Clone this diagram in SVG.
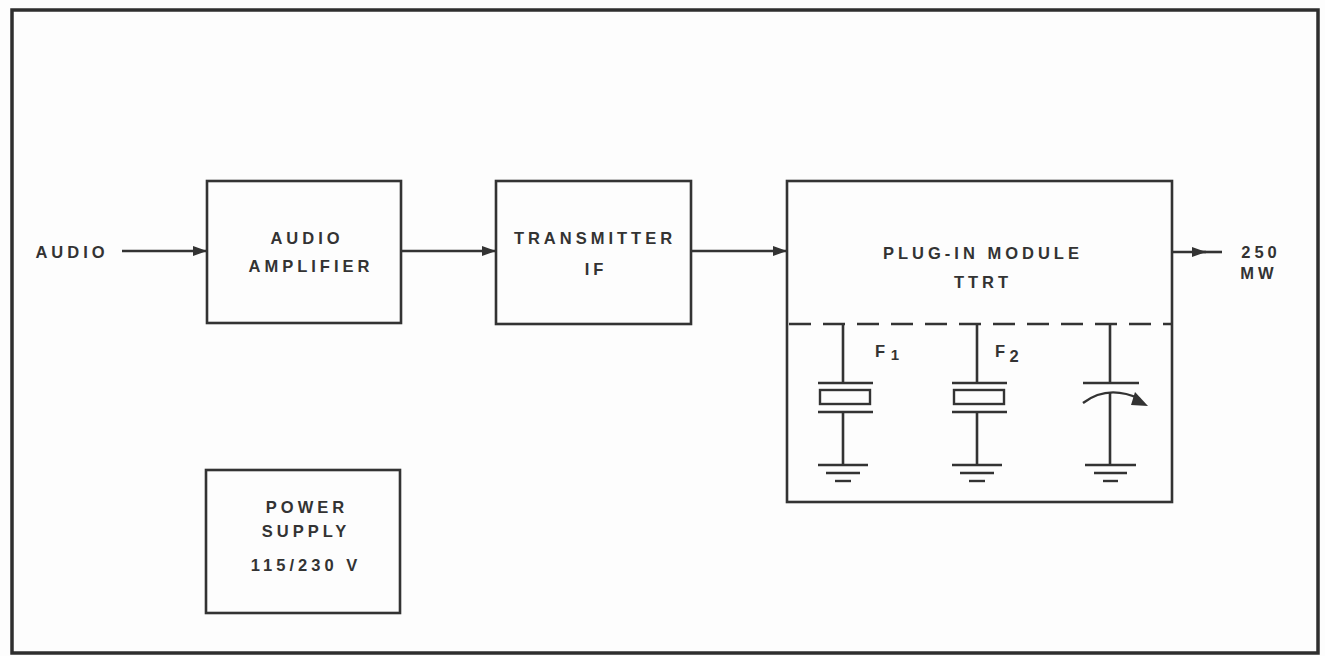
<svg xmlns="http://www.w3.org/2000/svg" width="1325" height="656" viewBox="0 0 1325 656">
<defs>
<style>
.frame{fill:none;stroke:#2e2e2e;stroke-width:3.5}
.box{fill:none;stroke:#333;stroke-width:2.6}
.ln{fill:none;stroke:#333;stroke-width:2.6}
.thin{fill:none;stroke:#333;stroke-width:2.4}
.t{font-family:"Liberation Sans",Arial,sans-serif;font-weight:bold;font-size:16.5px;fill:#333;letter-spacing:4px;text-anchor:middle}
</style>
<marker id="ah" viewBox="0 0 14 10" refX="14" refY="5" markerWidth="14" markerHeight="10" markerUnits="userSpaceOnUse" orient="auto">
<path d="M0,0 L14,5 L0,10 Z" fill="#333"/>
</marker>
</defs>
<rect width="1325" height="656" fill="#fdfdfd"/>
<rect class="frame" x="12" y="10" width="1306" height="643"/>

<g id="audio-in">
<text class="t" x="72" y="258">AUDIO</text>
</g>

<g id="audio-amplifier">
<rect class="box" x="207" y="181" width="194" height="142"/>
<text class="t" x="307" y="244">AUDIO</text>
<text class="t" x="311" y="272">AMPLIFIER</text>
</g>

<g id="transmitter-if">
<rect class="box" x="496" y="181" width="195" height="143"/>
<text class="t" x="595" y="244">TRANSMITTER</text>
<text class="t" x="596" y="275">IF</text>
</g>

<g id="plug-in-module">
<rect class="box" x="787" y="181" width="385" height="321"/>
<text class="t" x="983" y="259">PLUG-IN MODULE</text>
<text class="t" x="983" y="288">TTRT</text>
<line class="ln" x1="787" y1="324" x2="1172" y2="324" stroke-dasharray="22 12" stroke-dashoffset="-2"/>
<g id="crystal-f1">
<line class="ln" x1="843" y1="324" x2="843" y2="383"/>
<line class="thin" x1="818" y1="383" x2="873" y2="383"/>
<rect class="thin" x="820" y="390" width="50" height="14"/>
<line class="thin" x1="818" y1="412" x2="873" y2="412"/>
<line class="ln" x1="843" y1="412" x2="843" y2="465"/>
<line class="thin" x1="818" y1="465" x2="868" y2="465"/>
<line class="thin" x1="826" y1="473" x2="860" y2="473"/>
<line class="thin" x1="835" y1="481" x2="851" y2="481"/>
<text class="t" x="880" y="357" style="letter-spacing:0">F</text>
<text class="t" x="895" y="360" style="letter-spacing:0;font-size:15px">1</text>
</g>
<g id="crystal-f2">
<line class="ln" x1="977" y1="324" x2="977" y2="383"/>
<line class="thin" x1="952" y1="383" x2="1007" y2="383"/>
<rect class="thin" x="954" y="390" width="50" height="14"/>
<line class="thin" x1="952" y1="412" x2="1007" y2="412"/>
<line class="ln" x1="977" y1="412" x2="977" y2="465"/>
<line class="thin" x1="952" y1="465" x2="1002" y2="465"/>
<line class="thin" x1="960" y1="473" x2="994" y2="473"/>
<line class="thin" x1="969" y1="481" x2="985" y2="481"/>
<text class="t" x="1000" y="357" style="letter-spacing:0">F</text>
<text class="t" x="1014" y="362" style="letter-spacing:0">2</text>
</g>
<g id="var-cap">
<line class="ln" x1="1110" y1="324" x2="1110" y2="383"/>
<line class="thin" x1="1083" y1="383" x2="1139" y2="383"/>
<path class="thin" d="M1083,403 Q1108,384 1140,399"/>
<path d="M1135,392 L1148,406 L1131,405 Z" fill="#333"/>
<line class="ln" x1="1110" y1="393" x2="1110" y2="465"/>
<line class="thin" x1="1085" y1="465" x2="1136" y2="465"/>
<line class="thin" x1="1094" y1="473" x2="1127" y2="473"/>
<line class="thin" x1="1103" y1="481" x2="1118" y2="481"/>
</g>
</g>

<g id="output">
<text class="t" x="1261" y="258">250</text>
<text class="t" x="1259" y="279">MW</text>
</g>

<g id="power-supply">
<rect class="box" x="206" y="470" width="194" height="143"/>
<text class="t" x="307" y="513">POWER</text>
<text class="t" x="306" y="537">SUPPLY</text>
<text class="t" x="306" y="571">115/230 V</text>
</g>

<g id="connectors">
<line class="ln" x1="122" y1="251" x2="207" y2="251" marker-end="url(#ah)"/>
<line class="ln" x1="401" y1="251" x2="496" y2="251" marker-end="url(#ah)"/>
<line class="ln" x1="691" y1="251" x2="787" y2="251" marker-end="url(#ah)"/>
<line class="ln" x1="1172" y1="252" x2="1206" y2="252" marker-end="url(#ah)"/>
<line class="ln" x1="1200" y1="252" x2="1222" y2="252"/>
</g>
</svg>
